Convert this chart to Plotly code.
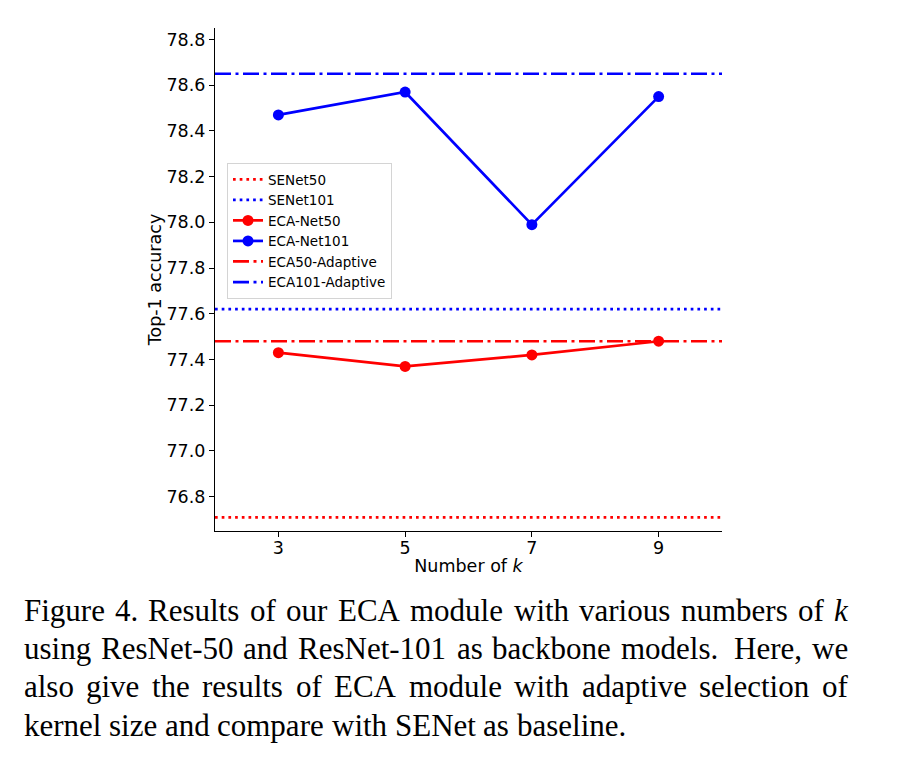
import plotly.graph_objects as go

# ---------------- data ----------------
k_values = [3, 5, 7, 9]
eca_net50 = [77.43, 77.37, 77.42, 77.48]
eca_net101 = [78.47, 78.57, 77.99, 78.55]
senet50 = 76.71
senet101 = 77.62
eca50_adaptive = 77.48
eca101_adaptive = 78.65
x_range = [2, 10]
y_range = [76.65, 78.85]
y_ticks = [76.8, 77.0, 77.2, 77.4, 77.6, 77.8, 78.0, 78.2, 78.4, 78.6, 78.8]

caption_lines = [
    ["Figure", "4.", "Results", "of", "our", "ECA", "module", "with", "various", "numbers", "of", "<i>k</i>"],
    ["using", "ResNet-50", "and", "ResNet-101", "as", "backbone", "models.", "Here,", "we"],
    ["also", "give", "the", "results", "of", "ECA", "module", "with", "adaptive", "selection", "of"],
    ["kernel", "size", "and", "compare", "with", "SENet", "as", "baseline."],
]

# ---------------- layout geometry (window pixels) ----------------
OFF = 8  # page body margin
W, H = 909 - OFF, 761 - OFF
PX0, PX1, PY0, PY1 = 215 - OFF, 722 - OFF, 28 - OFF, 531 - OFF
RED, BLUE = "#ff0000", "#0000ff"
LW = 2.7
DOT = "2.7px,4px"
DASHDOT = "16px,4.5px,3px,4.5px"
TICKFONT = dict(family="DejaVu Sans", size=17.5, color="black")

def px_to_paper_x(px):
    return (px - OFF - PX0) / (PX1 - PX0)

def px_to_paper_y(py):
    return (PY1 - (py - OFF)) / (PY1 - PY0)

fig = go.Figure()
fig.add_trace(go.Scatter(x=x_range, y=[senet50] * 2, mode="lines", name="SENet50",
                         line=dict(color=RED, width=LW, dash=DOT)))
fig.add_trace(go.Scatter(x=x_range, y=[senet101] * 2, mode="lines", name="SENet101",
                         line=dict(color=BLUE, width=LW, dash=DOT)))
fig.add_trace(go.Scatter(x=k_values, y=eca_net50, mode="lines+markers", name="ECA-Net50",
                         line=dict(color=RED, width=LW), marker=dict(size=11, color=RED)))
fig.add_trace(go.Scatter(x=k_values, y=eca_net101, mode="lines+markers", name="ECA-Net101",
                         line=dict(color=BLUE, width=LW), marker=dict(size=11, color=BLUE)))
fig.add_trace(go.Scatter(x=x_range, y=[eca50_adaptive] * 2, mode="lines", name="ECA50-Adaptive",
                         line=dict(color=RED, width=LW, dash=DASHDOT)))
fig.add_trace(go.Scatter(x=x_range, y=[eca101_adaptive] * 2, mode="lines", name="ECA101-Adaptive",
                         line=dict(color=BLUE, width=LW, dash=DASHDOT)))

# ---------------- caption (justified, Times metrics) ----------------
TIMES = {
    " ": 250, ",": 250, "-": 333, ".": 250,
    "A": 722, "B": 667, "C": 667, "D": 722, "E": 611, "F": 556, "G": 722, "H": 722, "I": 333,
    "J": 389, "K": 722, "L": 611, "M": 889, "N": 722, "O": 722, "P": 556, "Q": 722, "R": 667,
    "S": 556, "T": 611, "U": 722, "V": 722, "W": 944, "X": 722, "Y": 722, "Z": 611,
    "a": 444, "b": 500, "c": 444, "d": 500, "e": 444, "f": 333, "g": 500, "h": 500, "i": 278,
    "j": 278, "k": 500, "l": 278, "m": 778, "n": 500, "o": 500, "p": 500, "q": 500, "r": 333,
    "s": 389, "t": 278, "u": 500, "v": 500, "w": 722, "x": 500, "y": 500, "z": 444,
}
CAP_SIZE = 31
CAP_LEFT, CAP_RIGHT = 22.5, 847
CAP_BASE0, CAP_STEP = 621, 38.2

def word_width(w):
    if w.startswith("<i>"):
        return 444 * CAP_SIZE / 1000
    return sum(TIMES.get(c, 500) for c in w) * CAP_SIZE / 1000

annotations = []
for li, words in enumerate(caption_lines):
    widths = [word_width(w) for w in words]
    weights = []
    for w in words[:-1]:
        weights.append(1.5 if (w.endswith(".") and w[-2].isalpha()) else 1.0)
    last = li == len(caption_lines) - 1
    if last:
        gaps = [0.25 * CAP_SIZE * wt for wt in weights]
    else:
        free = (CAP_RIGHT - CAP_LEFT) - sum(widths)
        unit = free / sum(weights)
        gaps = [unit * wt for wt in weights]
    cy = CAP_BASE0 + li * CAP_STEP - 0.3375 * CAP_SIZE
    x = CAP_LEFT
    for i, w in enumerate(words):
        annotations.append(dict(
            text=w, x=px_to_paper_x(x), y=px_to_paper_y(cy), xref="paper", yref="paper",
            xanchor="left", yanchor="middle", showarrow=False, borderpad=0,
            font=dict(family="Liberation Serif", size=CAP_SIZE, color="black")))
        x += widths[i] + (gaps[i] if i < len(gaps) else 0)

fig.update_layout(
    width=W, height=H,
    margin=dict(l=PX0, r=W - PX1, t=PY0, b=H - PY1, pad=0),
    paper_bgcolor="white", plot_bgcolor="white",
    font=dict(family="DejaVu Sans", color="black"),
    showlegend=True,
    legend=dict(x=px_to_paper_x(227), y=px_to_paper_y(163), xanchor="left", yanchor="top",
                bgcolor="white", bordercolor="#d4d4d4", borderwidth=1,
                font=dict(family="DejaVu Sans", size=13.5, color="black"),
                itemwidth=30, tracegroupgap=0),
    annotations=annotations,
)
fig.update_xaxes(range=x_range, tickvals=k_values, ticktext=[str(k) for k in k_values],
                 showgrid=False, zeroline=False, showline=True, linecolor="black", linewidth=1.2,
                 ticks="outside", ticklen=5, tickwidth=1.2, tickcolor="black", tickfont=TICKFONT,
                 ticklabelstandoff=-4,
                 title=dict(text="Number of <i>k</i>", font=TICKFONT, standoff=2))
fig.update_yaxes(range=y_range, tickvals=y_ticks, ticktext=[f"{v:.1f}" for v in y_ticks],
                 showgrid=False, zeroline=False, showline=True, linecolor="black", linewidth=1.2,
                 ticks="outside", ticklen=5, tickwidth=1.2, tickcolor="black", tickfont=TICKFONT,
                 ticklabelstandoff=0,
                 title=dict(text="Top-1 accuracy", font=TICKFONT, standoff=0))

fig.write_html("out.html")
